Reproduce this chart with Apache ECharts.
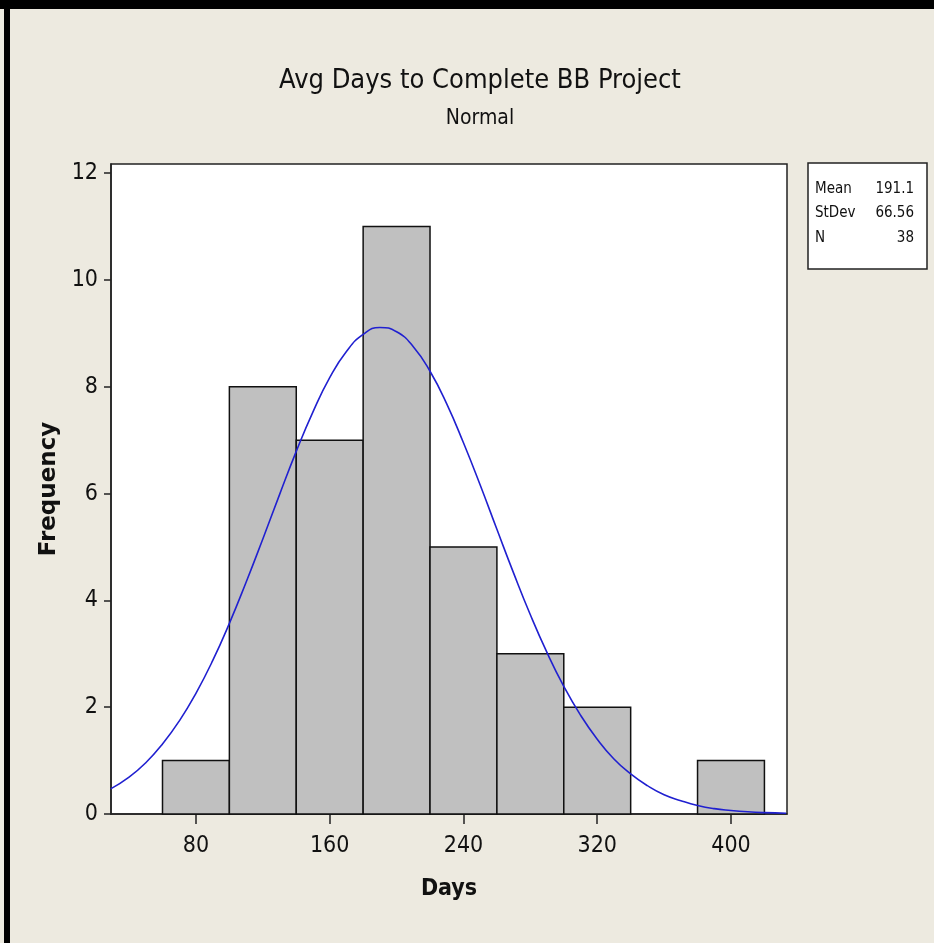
<!DOCTYPE html>
<html>
<head>
<meta charset="utf-8">
<script src="https://cdn.jsdelivr.net/npm/echarts@6/dist/echarts.min.js"></script>
<style>
html,body{margin:0;padding:0;background:#EDEAE0;}
#chart{width:934px;height:943px;}
</style>
</head>
<body>
<div id="chart"></div>
<script>
const binStart = [60, 100, 140, 180, 220, 260, 300, 340, 380];
const binEnd   = [100, 140, 180, 220, 260, 300, 340, 380, 420];
const counts   = [1, 8, 7, 11, 5, 3, 2, 0, 1];
const xTicks = [80, 160, 240, 320, 400];
const yTicks = [0, 2, 4, 6, 8, 10, 12];
const curveDays = [29, 40, 50, 60, 70, 80, 90, 100, 110, 120, 130, 140, 150, 160, 170, 180, 190, 200, 210, 220, 230, 240, 250, 260, 270, 280, 290, 300, 310, 320, 330, 340, 350, 360, 370, 380, 390, 400, 410, 420, 433];
const curveFreq = [0.47, 0.69, 0.96, 1.31, 1.74, 2.26, 2.87, 3.57, 4.34, 5.15, 5.98, 6.79, 7.53, 8.17, 8.66, 8.98, 9.11, 9.03, 8.75, 8.29, 7.68, 6.95, 6.16, 5.33, 4.51, 3.73, 3.02, 2.39, 1.85, 1.40, 1.03, 0.75, 0.53, 0.36, 0.25, 0.16, 0.10, 0.066, 0.041, 0.025, 0.013];
const statLabels = ['Mean', 'StDev', 'N'];
const statValues = ['191.1', '66.56', '38'];

const FN = "'Liberation Sans Narrow', 'DejaVu Sans Condensed', 'Liberation Sans', sans-serif";

const histData = binStart.map((s, i) => [s, binEnd[i], counts[i]]);
const curveData = curveDays.map((d, i) => [d, curveFreq[i]]);

const statGraphics = [];
statGraphics.push({type:'rect', shape:{x:808, y:163, width:119, height:106}, style:{fill:'#ffffff', stroke:'#222', lineWidth:1.5}});
const rowY = [189, 213, 238];
statLabels.forEach((l, i) => {
  statGraphics.push({type:'text', x:815, y:rowY[i], style:{text:l, font:"15px " + FN, fill:'#111', textVerticalAlign:'middle', textAlign:'left'}});
  statGraphics.push({type:'text', x:914, y:rowY[i], style:{text:statValues[i], font:"15px " + FN, fill:'#111', textVerticalAlign:'middle', textAlign:'right'}});
});

const chart = echarts.init(document.getElementById('chart'));
chart.setOption({
  backgroundColor: '#EDEAE0',
  animation: false,
  title: {
    text: 'Avg Days to Complete BB Project',
    subtext: 'Normal',
    left: 475, top: 62, textAlign: 'center',
    textStyle: {fontFamily: FN, fontSize: 27, fontWeight: 'normal', color: '#111'},
    subtextStyle: {fontFamily: FN, fontSize: 21, color: '#111'},
    itemGap: 14
  },
  grid: {left: 111, right: 147, top: 164, bottom: 129, show: true, backgroundColor: '#ffffff', borderColor: '#222', borderWidth: 1.5},
  xAxis: {
    type: 'value', min: 29.2, max: 433.5,
    name: 'Days', nameLocation: 'middle', nameGap: 64,
    nameTextStyle: {fontFamily: FN, fontSize: 23, fontWeight: 'bold', color: '#111'},
    axisLine: {show: true, lineStyle: {color: '#222', width: 1.5}},
    axisTick: {show: true, length: 10, customValues: xTicks, lineStyle: {color: '#222', width: 1.5}},
    axisLabel: {customValues: xTicks, margin: 21, fontFamily: FN, fontSize: 23, color: '#111'},
    splitLine: {show: false}
  },
  yAxis: {
    type: 'value', min: 0, max: 12.17,
    name: 'Frequency', nameLocation: 'middle', nameGap: 50, nameRotate: 90,
    nameTextStyle: {fontFamily: "'DejaVu Sans', sans-serif", fontSize: 23, fontWeight: 'bold', color: '#111'},
    axisLine: {show: true, lineStyle: {color: '#222', width: 1.5}},
    axisTick: {show: true, length: 7, customValues: yTicks, lineStyle: {color: '#222', width: 1.5}},
    axisLabel: {customValues: yTicks, margin: 13, fontFamily: FN, fontSize: 23, color: '#111'},
    splitLine: {show: false}
  },
  series: [
    {
      type: 'custom',
      data: histData,
      encode: {x: [0, 1], y: 2},
      renderItem: function (params, api) {
        const c = api.value(2);
        if (!c) return null;
        const p0 = api.coord([api.value(0), c]);
        const p1 = api.coord([api.value(1), 0]);
        return {type: 'rect', shape: {x: p0[0], y: p0[1], width: p1[0] - p0[0], height: p1[1] - p0[1]},
          style: {fill: '#C0C0C0', stroke: '#111', lineWidth: 1.5}};
      },
      z: 2
    },
    {
      type: 'line', data: curveData, smooth: true, showSymbol: false, symbol: 'none',
      lineStyle: {color: '#2020D0', width: 1.6}, z: 3
    }
  ],
  graphic: [
    {type: 'rect', shape: {x: 0, y: 0, width: 934, height: 9}, style: {fill: '#000'}},
    {type: 'rect', shape: {x: 4, y: 0, width: 6, height: 943}, style: {fill: '#000'}}
  ].concat(statGraphics)
});
</script>
</body>
</html>
